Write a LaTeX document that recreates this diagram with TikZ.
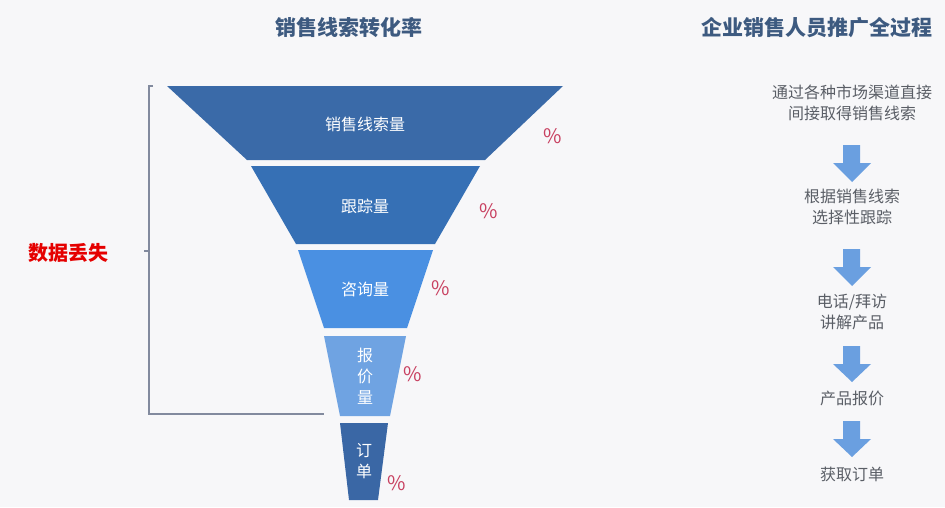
\documentclass[tikz,border=0pt]{standalone}
\usepackage{fontspec}
\setmainfont{Noto Sans CJK SC}
\usepackage{tikz}
\usetikzlibrary{positioning}
\definecolor{bgc}{RGB}{247,247,249}
\definecolor{segA}{RGB}{58,106,168}
\definecolor{segB}{RGB}{54,112,181}
\definecolor{segC}{RGB}{74,144,226}
\definecolor{segD}{RGB}{111,163,226}
\definecolor{segE}{RGB}{58,103,165}
\definecolor{pct}{RGB}{200,64,96}
\definecolor{ttl}{RGB}{61,90,128}
\definecolor{stepc}{RGB}{90,94,102}
\definecolor{arr}{RGB}{106,159,224}
\definecolor{brk}{RGB}{130,138,158}
\tikzset{
  segtext/.style={text=white, font=\fontsize{16}{21}\selectfont, align=center, inner sep=0pt},
  pctmark/.style={text=pct, font=\fontsize{20}{20}\selectfont, inner sep=0pt},
  title/.style={text=ttl, font=\bfseries\fontsize{21}{21}\selectfont, inner sep=0pt},
  steptext/.style={text=stepc, font=\fontsize{16}{20.5}\selectfont, align=center, inner sep=0pt}
}
\begin{document}
\begin{tikzpicture}[x=1pt, y=-1pt]
  \useasboundingbox[fill=bgc] (0,0) rectangle (945,507);

  % titles
  \node[title] (t1) at (349,28) {销售线索转化率};
  \node[title] (t2) at (817,28) {企业销售人员推广全过程};

  % funnel
  \fill[segA] (167,86) -- (563,86) -- (485,160) -- (247,160) -- cycle;
  \fill[segB] (251,166) -- (480,166) -- (435,244) -- (296,244) -- cycle;
  \fill[segC] (298,250) -- (433,250) -- (407,328) -- (324,328) -- cycle;
  \fill[segD] (324,336) -- (406,336) -- (390,416) -- (340,416) -- cycle;
  \fill[segE] (340,423) -- (388,423) -- (378,500) -- (349,500) -- cycle;

  \node[segtext] (leads) at (365,124) {销售线索量};
  \node[segtext] (track) at (365,206) {跟踪量};
  \node[segtext] (ask) at (365,289) {咨询量};
  \node[segtext] (quote) at (365,376) {报\\价\\量};
  \node[segtext] (order) at (364,461) {订\\单};

  \node[pctmark] (p1) at (553,136) {\%};
  \node[pctmark] (p2) at (489,211) {\%};
  \node[pctmark] (p3) at (441,288) {\%};
  \node[pctmark] (p4) at (413,374) {\%};
  \node[pctmark] (p5) at (397,483) {\%};

  % bracket
  \draw[brk, line width=1.1pt] (153,86) -- (149,86) -- (149,414) -- (324,414);
  \draw[brk, line width=1.1pt] (149,251) -- (144,251);
  \node[text=red!90!black, font=\bfseries\fontsize{20}{20}\selectfont, inner sep=0pt] (loss) at (68,253) {数据丢失};

  % steps
  \node[steptext] (s1) at (852,103) {通过各种市场渠道直接\\间接取得销售线索};
  \node[steptext] (s2) at (852,207) {根据销售线索\\选择性跟踪};
  \node[steptext] (s3) at (852,312) {电话/拜访\\讲解产品};
  \node[steptext] (s4) at (852,398) {产品报价};
  \node[steptext] (s5) at (852,474) {获取订单};

  \fill[arr] (843,145) -- (860,145) -- (860,163) -- (871,163) -- (852,182) -- (833,163) -- (843,163) -- cycle;
  \fill[arr] (843,249) -- (860,249) -- (860,267) -- (871,267) -- (852,286) -- (833,267) -- (843,267) -- cycle;
  \fill[arr] (843,346) -- (860,346) -- (860,364) -- (871,364) -- (852,382) -- (833,364) -- (843,364) -- cycle;
  \fill[arr] (843,421) -- (860,421) -- (860,439) -- (871,439) -- (852,457) -- (833,439) -- (843,439) -- cycle;
\end{tikzpicture}
\end{document}
